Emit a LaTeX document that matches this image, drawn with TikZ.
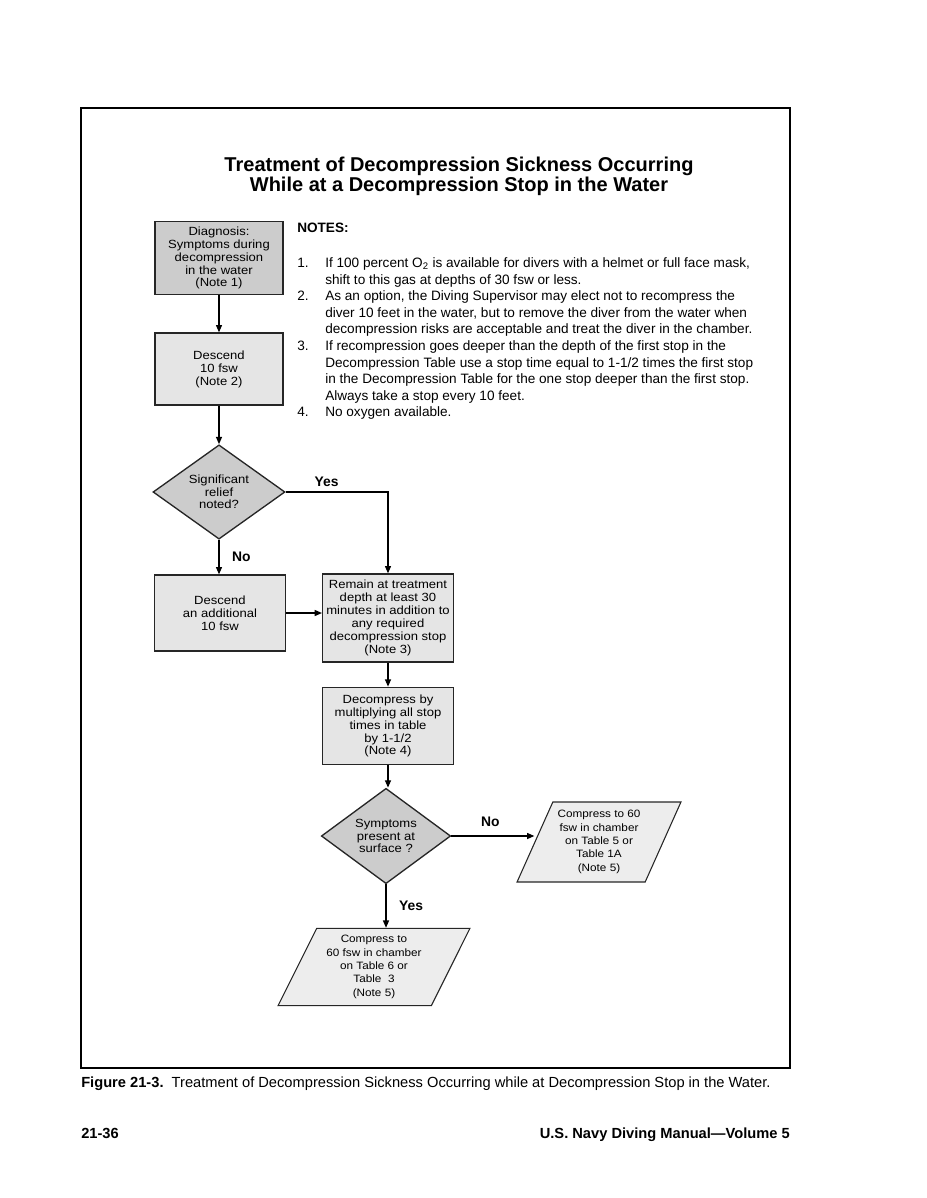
\documentclass[tikz,border=0pt]{standalone}
\usepackage{fontspec}
\setmainfont{Liberation Sans}
\newfontfamily\widefont[FakeStretch=1.1]{Liberation Sans}
\usepackage{tikz}
\usetikzlibrary{shapes.geometric,arrows.meta}

\definecolor{darkfill}{gray}{0.80}
\definecolor{lightfill}{gray}{0.90}
\definecolor{iofill}{gray}{0.93}

\tikzset{
	box/.style={draw=black!85, line width=1pt, fill=lightfill, align=center,
		minimum width=96pt, inner sep=1pt, font=\widefont\fontsize{8.9}{9.7}\selectfont},
	decision/.style={diamond, draw=black!85, line width=1pt, fill=darkfill, align=center,
		minimum width=99pt, minimum height=59pt, inner sep=0pt, font=\widefont\fontsize{8.9}{9.5}\selectfont},
	chamber/.style={trapezium, trapezium left angle=63, trapezium right angle=117,
		trapezium stretches=true, draw=black!85, line width=0.8pt, fill=iofill, align=center,
		inner sep=0pt, font=\widefont\fontsize{8}{10}\selectfont},
	flow/.style={line width=1pt, -{Triangle[length=5.5pt,width=4.5pt]}},
	answer/.style={font=\bfseries\fontsize{10.4}{11}\selectfont}
}

\begin{document}
\begin{tikzpicture}[x=0.75pt, y=-0.75pt]
	\useasboundingbox (0,0) rectangle (926,1198);
	\draw[line width=1.1pt] (81,108) rectangle (790,1068);

	% title
	\node[font=\bfseries\fontsize{15}{15}\selectfont, align=center] (title) at (459,176)
		{Treatment of Decompression Sickness Occurring\\While at a Decompression Stop in the Water};

	% flowchart
	\node[box, fill=darkfill, minimum height=55pt] (diag) at (219,258)
		{Diagnosis:\\Symptoms during\\decompression\\in the water\\(Note 1)};
	\node[box, minimum height=54pt] (descA) at (219,369) {Descend\\10 fsw\\(Note 2)};
	\node[decision] (relief) at (219,492) {Significant\\relief\\noted?};
	\node[box, minimum height=57pt, minimum width=98pt] (descB) at (220,613)
		{Descend\\an additional\\10 fsw};
	\node[box, minimum height=66pt, minimum width=98pt] (remain) at (388,618)
		{Remain at treatment\\depth at least 30\\minutes in addition to\\any required\\decompression stop\\(Note 3)};
	\node[box, minimum height=58pt, minimum width=98pt] (decomp) at (388,726)
		{Decompress by\\multiplying all stop\\times in table\\by 1-1/2\\(Note 4)};
	\node[decision, minimum width=97pt, minimum height=69pt] (sympt) at (386,836)
		{Symptoms\\present at\\surface ?};
	\node[chamber, minimum width=123pt, minimum height=60pt] (chamberA) at (599,842)
		{Compress to 60\\fsw in chamber\\on Table 5 or\\Table 1A\\(Note 5)};
	\node[chamber, minimum width=144pt, minimum height=58pt] (chamberB) at (374,967)
		{Compress to\\60 fsw in chamber\\on Table 6 or\\Table\ \ 3\\(Note 5)};

	\draw[flow] (diag) -- (descA);
	\draw[flow] (descA) -- (relief);
	\draw[flow] (relief.south) -- node[answer, right=6pt] {No} (relief.south |- descB.north);
	\draw[flow] (relief.east) -| node[answer, above, pos=0.2] {Yes} (remain.north);
	\draw[flow] (descB.east) -- (descB.east -| remain.west);
	\draw[flow] (remain) -- (decomp);
	\draw[flow] (decomp.south) -- (decomp.south |- sympt.north);
	\draw[flow] (sympt.east) -- node[answer, above=3pt, pos=0.47] {No} (sympt.east -| chamberA.west);
	\draw[flow] (sympt.south) -- node[answer, right=6pt] {Yes} (sympt.south |- chamberB.north);

	% notes
	\node[anchor=north west, inner sep=0pt, font=\fontsize{10.2}{12.45}\selectfont] (notes) at (297,221) {%
		\begin{tabular}{@{}p{21pt}@{}l@{}}
			\multicolumn{2}{@{}l}{\bfseries NOTES:}\\[13.5pt]
			1. & If 100 percent O\textsubscript{2} is available for divers with a helmet or full face mask,\\
			   & shift to this gas at depths of 30 fsw or less.\\
			2. & As an option, the Diving Supervisor may elect not to recompress the\\
			   & diver 10 feet in the water, but to remove the diver from the water when\\
			   & decompression risks are acceptable and treat the diver in the chamber.\\
			3. & If recompression goes deeper than the depth of the first stop in the\\
			   & Decompression Table use a stop time equal to 1-1/2 times the first stop\\
			   & in the Decompression Table for the one stop deeper than the first stop.\\
			   & Always take a stop every 10 feet.\\
			4. & No oxygen available.
		\end{tabular}};

	% caption and footer
	\node[anchor=base west, inner sep=0pt, font=\fontsize{11}{12}\selectfont] (caption) at (81,1087)
		{\textbf{Figure 21-3.}\ \ Treatment of Decompression Sickness Occurring while at Decompression Stop in the Water.};
	\node[anchor=base west, inner sep=0pt, font=\bfseries\fontsize{11}{12}\selectfont] (pageno) at (81,1138) {21-36};
	\node[anchor=base east, inner sep=0pt, font=\bfseries\fontsize{11}{12}\selectfont] (manual) at (790,1138)
		{U.S. Navy Diving Manual—Volume 5};
\end{tikzpicture}
\end{document}
